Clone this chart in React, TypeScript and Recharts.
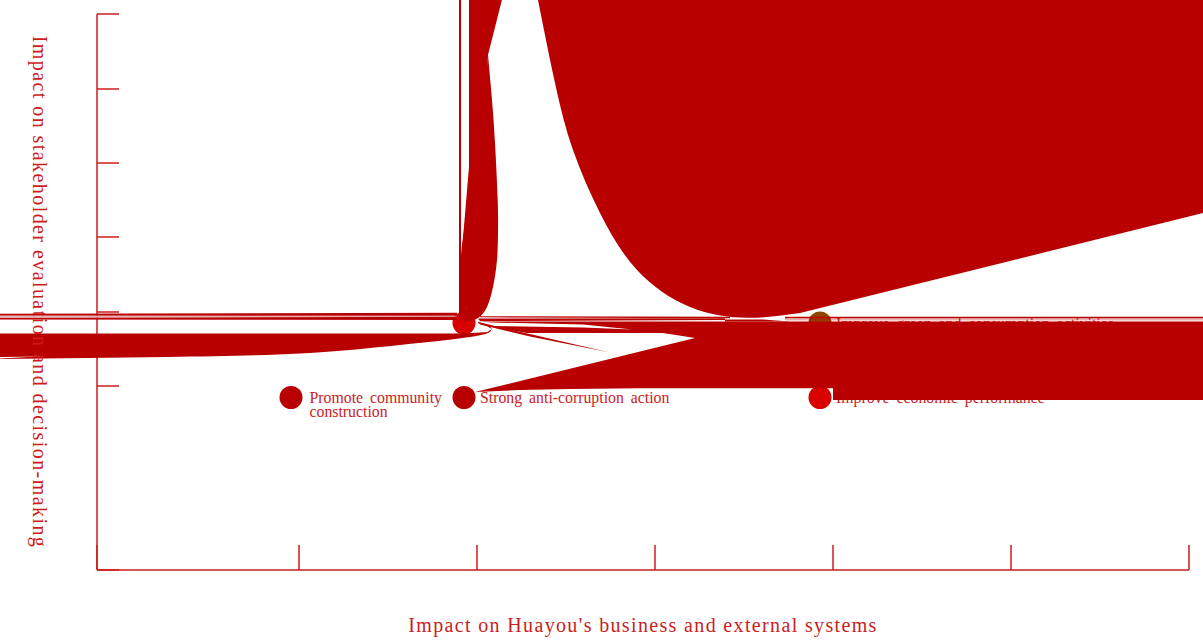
import React from 'react';
import { ScatterChart, Scatter, XAxis, YAxis, Label } from 'recharts';

const RED = '#b90000';
const INK = '#cc1c1c';

// Axis ticks (the chart prints no tick labels)
const xTicks = [0, 202, 380, 558, 736, 914, 1092];
const yTicks = [0, 184, 258, 333, 407, 481, 556];

// Topics
const topicNames = [
  ['Promote community', 'construction'],
  ['Strong anti-corruption action'],
  ['Improve economic performance'],
  [''],
  ['Improve green and consumption activities'],
];
const topicX = [194, 367, 723, 367, 723];
const topicY = [172.5, 172.5, 172.5, 247, 247];
const topicColors = ['#b90000', '#b90000', '#d80000', '#d80000', '#8f4500'];

// Outlines of the filled regions
const blobCurveX = [433, 441, 458, 476, 503, 540, 593, 650, 703];
const blobCurveY = [610, 570, 487, 420, 357, 300, 263, 252.2, 257];
const blobBodyX = [433, 503, 603, 703, 1203, 1203];
const blobBodyY = [610, 370, 270, 257, 381, 610];
const pillarRightX = [391, 395, 398, 400.7, 401, 400, 396, 390, 381, 368];
const pillarRightY = [515, 470, 427, 370, 337, 310, 283, 263, 252, 248];
const pillarLeftX = [372, 368.5, 364.5, 362.5, 362];
const pillarLeftY = [403, 353, 320, 287, 252];
const pillarBodyX = [372, 415, 391, 383, 368, 362, 365, 372];
const pillarBodyY = [610, 610, 515, 370, 248, 252, 320, 403];
const railX = [362, 364, 364, 362];
const railY = [610, 610, 252, 252];
const leftUpperX = [-107, 360, 360, -107];
const leftUpperY = [256.2, 257.3, 254.2, 254.4];
const leftLowerX = [-107, 360, 360, -107];
const leftLowerY = [252, 253.2, 250, 250.4];
const leftMidX = [-107, 360, 360, -107];
const leftMidY = [254.4, 254.2, 253.2, 252];
const leftBandX = [-107, 373, 387, 395, 393, 303, 203, 70, -107];
const leftBandY = [236.5, 236.5, 236, 241, 238, 228, 220, 215, 213];
const leftCurveX = [393, 373, 303, 203, 70, -107];
const leftCurveY = [238, 233, 225, 216.5, 213, 210.9];
const hookX = [381, 391, 395.5, 393, 389, 381];
const hookY = [248, 245, 241, 242, 244.5, 247];
const diagonalX = [381, 513, 433, 383];
const diagonalY = [248, 217.5, 233.5, 245.5];
const topLineX = [383, 633, 633, 383];
const topLineY = [253.8, 253.2, 251.7, 252.7];
const topLineRightX = [688, 1203, 1203, 688];
const topLineRightY = [253.3, 253.3, 251.7, 251.7];
const gapTintX = [688, 1203, 1203, 688];
const gapTintY = [251.7, 251.7, 249.5, 249.5];
const wedgeX = [381, 628, 628, 383];
const wedgeY = [251.5, 251.7, 250, 249];
const patchX = [628, 666, 693, 628];
const patchY = [250.5, 250.5, 248.5, 248.5];
const bandX = [381, 1203, 1203, 736, 736, 543, 473, 423, 378, 598, 566, 430, 393, 486, 535, 486, 396];
const bandY = [248.5, 248.5, 170, 170, 181.7, 181.7, 181, 180, 178, 232, 237, 237, 244, 242.5, 240.5, 245.5, 247.5];

const zip = (xs: number[], ys: number[]) => xs.map((x, i) => ({ x, y: ys[i] }));

const topics = topicX.map((x, i) => ({ x, y: topicY[i], lines: topicNames[i], color: topicColors[i] }));

type JointType = 'linear' | 'natural';
const regions: { key: string; data: { x: number; y: number }[]; fill: string; joint: JointType }[] = [
  { key: 'blobBody', data: zip(blobBodyX, blobBodyY), fill: RED, joint: 'linear' },
  { key: 'blobCurve', data: zip(blobCurveX, blobCurveY), fill: RED, joint: 'natural' },
  { key: 'pillarBody', data: zip(pillarBodyX, pillarBodyY), fill: RED, joint: 'linear' },
  { key: 'pillarRight', data: zip(pillarRightX, pillarRightY), fill: RED, joint: 'natural' },
  { key: 'pillarLeft', data: zip(pillarLeftX, pillarLeftY), fill: RED, joint: 'natural' },
  { key: 'rail', data: zip(railX, railY), fill: RED, joint: 'linear' },
  { key: 'leftMid', data: zip(leftMidX, leftMidY), fill: '#e6b0b0', joint: 'linear' },
  { key: 'leftUpper', data: zip(leftUpperX, leftUpperY), fill: RED, joint: 'linear' },
  { key: 'leftLower', data: zip(leftLowerX, leftLowerY), fill: RED, joint: 'linear' },
  { key: 'leftBand', data: zip(leftBandX, leftBandY), fill: RED, joint: 'linear' },
  { key: 'leftCurve', data: zip(leftCurveX, leftCurveY), fill: RED, joint: 'natural' },
  { key: 'hook', data: zip(hookX, hookY), fill: RED, joint: 'linear' },
  { key: 'diagonal', data: zip(diagonalX, diagonalY), fill: RED, joint: 'linear' },
  { key: 'topLine', data: zip(topLineX, topLineY), fill: RED, joint: 'linear' },
  { key: 'topLineRight', data: zip(topLineRightX, topLineRightY), fill: RED, joint: 'linear' },
  { key: 'gapTint', data: zip(gapTintX, gapTintY), fill: 'rgba(185,0,0,0.3)', joint: 'linear' },
  { key: 'wedge', data: zip(wedgeX, wedgeY), fill: RED, joint: 'linear' },
  { key: 'patch', data: zip(patchX, patchY), fill: RED, joint: 'linear' },
  { key: 'band', data: zip(bandX, bandY), fill: RED, joint: 'linear' },
];

const Topic = (p: any) => {
  const { cx, cy, payload } = p;
  const offset = payload.lines.length > 1 ? 18.5 : 16;
  return (
    <g>
      <circle cx={cx} cy={cy} r={11.5} fill={payload.color} />
      {payload.lines.map((line: string, i: number) => (
        <text
          key={i}
          x={cx + offset}
          y={cy + 5.5 + i * 14}
          fill={INK}
          fontFamily="'Liberation Serif'"
          fontSize={15.8}
          wordSpacing={3}
        >
          {line}
        </text>
      ))}
    </g>
  );
};

const NoMark = () => <g />;

const titleStyle = { fill: INK, fontFamily: "'Liberation Serif'", fontSize: 20, letterSpacing: 1.35 };
const sideTitleStyle = { ...titleStyle, letterSpacing: 1.43 };

export default function App() {
  return (
    <div style={{ position: 'absolute', left: 0, top: 0, width: 1203, height: 642, background: '#fff' }}>
      <style>{`.recharts-wrapper g{clip-path:none !important}`}</style>
      <ScatterChart width={1203} height={642} margin={{ top: 14, right: 14, bottom: 72, left: 97 }}>
        <XAxis
          type="number"
          dataKey="x"
          domain={[0, 1092]}
          allowDataOverflow
          ticks={xTicks}
          tickFormatter={() => ''}
          mirror
          height={1}
          tickSize={25}
          stroke={INK}
          strokeWidth={1.5}
        >
          <Label value="Impact on Huayou's business and external systems" position="bottom" offset={48} style={titleStyle} />
        </XAxis>
        <YAxis
          type="number"
          dataKey="y"
          domain={[0, 556]}
          allowDataOverflow
          ticks={yTicks}
          tickFormatter={() => ''}
          mirror
          width={1}
          tickSize={22}
          stroke={INK}
          strokeWidth={1.5}
        >
          <Label value="Impact on stakeholder evaluation and decision-making" position="center" angle={90} dx={-57} style={sideTitleStyle} />
        </YAxis>
        <Scatter data={topics} shape={Topic} isAnimationActive={false} />
        {regions.map((r) => (
          <Scatter
            key={r.key}
            data={r.data}
            shape={NoMark}
            line={{ fill: r.fill, stroke: 'none' }}
            lineJointType={r.joint}
            isAnimationActive={false}
          />
        ))}
      </ScatterChart>
    </div>
  );
}
